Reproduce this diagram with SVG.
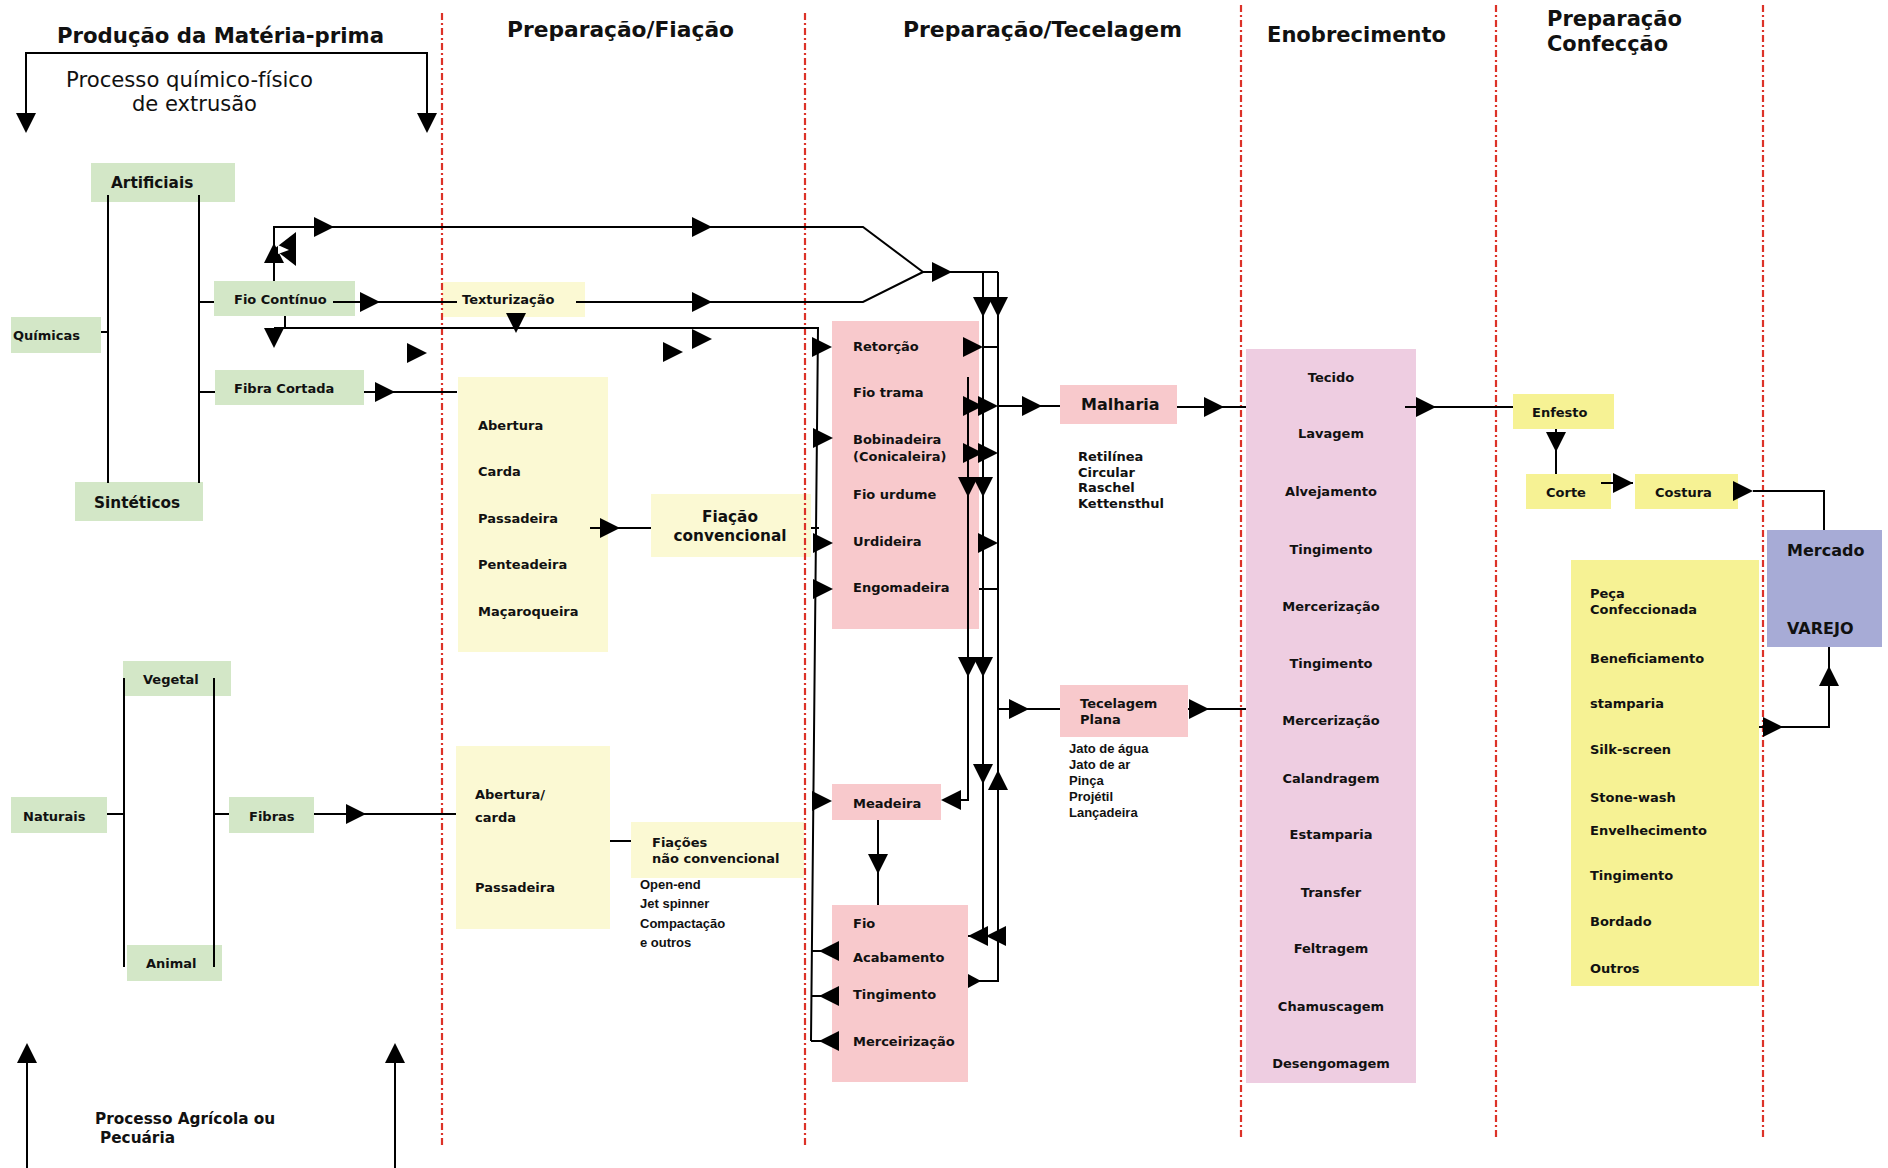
<svg xmlns="http://www.w3.org/2000/svg" xmlns:xlink="http://www.w3.org/1999/xlink" width="1888" height="1168" viewBox="0 0 1888 1168">
  <style>
    .green { fill: #d3e7c7; }
    .pale { fill: #fbf9d3; }
    .pink { fill: #f8c9cc; }
    .mauve { fill: #eecde1; }
    .yellow { fill: #f6f294; }
    .blue { fill: #a7abd6; }
    .lane { stroke: #dc3228; stroke-width: 2.2; stroke-dasharray: 7 3 2 3; fill: none; }
    .wire { stroke: #000; stroke-width: 2; fill: none; }
    text { fill: #111; font-family: "DejaVu Sans", Verdana, sans-serif; font-weight: bold; }
    .h { font-size: 21.3px; }
    .sub { font-size: 21px; font-weight: normal; }
    .t13 { font-size: 13px; }
    .t15 { font-size: 15.3px; }
    .t16 { font-size: 16px; }
    .a13 { font-family: "Liberation Sans", Arial, sans-serif; font-size: 13px; }
    .mid { text-anchor: middle; }
  </style>
  <defs>
    <!-- arrowhead pointing right, tip at the origin -->
    <path id="ah" d="M0,0 L-20,-10 L-20,10 Z" fill="#000"/>
    <path id="ahs" d="M0,0 L-13,-7 L-13,7 Z" fill="#000"/>
  </defs>

  <rect width="1888" height="1168" fill="#fff"/>

  <!-- column headings -->
  <g id="headings">
    <text class="h" x="57" y="43" textLength="327" lengthAdjust="spacingAndGlyphs">Produção da Matéria-prima</text>
    <text class="sub" x="66" y="87" textLength="247" lengthAdjust="spacingAndGlyphs">Processo químico-físico</text>
    <text class="sub" x="132" y="111" textLength="125" lengthAdjust="spacingAndGlyphs">de extrusão</text>
    <text class="h" x="507" y="37" textLength="227" lengthAdjust="spacingAndGlyphs">Preparação/Fiação</text>
    <text class="h" x="903" y="37" textLength="279" lengthAdjust="spacingAndGlyphs">Preparação/Tecelagem</text>
    <text class="h" x="1267" y="42" textLength="179" lengthAdjust="spacingAndGlyphs">Enobrecimento</text>
    <text class="h" x="1547" y="26" textLength="135" lengthAdjust="spacingAndGlyphs">Preparação</text>
    <text class="h" x="1547" y="51" textLength="121" lengthAdjust="spacingAndGlyphs">Confecção</text>
    <text class="t15" x="95" y="1124">Processo Agrícola ou</text>
    <text class="t15" x="100" y="1143">Pecuária</text>
  </g>

  <!-- raw material nodes -->
  <g id="artificiais"><rect class="green" x="91" y="163" width="144" height="39"/><text class="t15" x="111" y="188">Artificiais</text></g>
  <g id="quimicas"><rect class="green" x="11" y="317" width="90" height="36"/><text class="t13" x="13" y="340">Químicas</text></g>
  <g id="fio-continuo"><rect class="green" x="214" y="281" width="141" height="35"/><text class="t13" x="234" y="304">Fio Contínuo</text></g>
  <g id="fibra-cortada"><rect class="green" x="215" y="370" width="149" height="35"/><text class="t13" x="234" y="393">Fibra Cortada</text></g>
  <g id="sinteticos"><rect class="green" x="75" y="482" width="128" height="39"/><text class="t15" x="94" y="508">Sintéticos</text></g>
  <g id="vegetal"><rect class="green" x="123" y="661" width="108" height="35"/><text class="t13" x="143" y="684">Vegetal</text></g>
  <g id="naturais"><rect class="green" x="11" y="797" width="96" height="36"/><text class="t13" x="23" y="821">Naturais</text></g>
  <g id="fibras"><rect class="green" x="229" y="797" width="85" height="36"/><text class="t13" x="249" y="821">Fibras</text></g>
  <g id="animal"><rect class="green" x="127" y="945" width="95" height="36"/><text class="t13" x="146" y="968">Animal</text></g>

  <!-- spinning nodes -->
  <g id="texturizacao"><rect class="pale" x="442" y="282" width="143" height="35"/><text class="t13" x="462" y="304">Texturização</text></g>
  <g id="preparacao-fibra">
    <rect class="pale" x="458" y="377" width="150" height="275"/>
    <text class="t13" x="478" y="430">Abertura</text>
    <text class="t13" x="478" y="476">Carda</text>
    <text class="t13" x="478" y="523">Passadeira</text>
    <text class="t13" x="478" y="569">Penteadeira</text>
    <text class="t13" x="478" y="616">Maçaroqueira</text>
  </g>
  <g id="fiacao-convencional">
    <rect class="pale" x="651" y="494" width="160" height="63"/>
    <text class="t15 mid" x="730" y="522">Fiação</text>
    <text class="t15 mid" x="730" y="541">convencional</text>
  </g>
  <g id="preparacao-natural">
    <rect class="pale" x="456" y="746" width="154" height="183"/>
    <text class="t13" x="475" y="799">Abertura/</text>
    <text class="t13" x="475" y="822">carda</text>
    <text class="t13" x="475" y="892">Passadeira</text>
  </g>
  <g id="fiacoes-nao-convencional">
    <rect class="pale" x="631" y="822" width="173" height="56"/>
    <text class="t13" x="652" y="847">Fiações</text>
    <text class="t13" x="652" y="863">não convencional</text>
    <text class="a13" x="640" y="889">Open-end</text>
    <text class="a13" x="640" y="908">Jet spinner</text>
    <text class="a13" x="640" y="928">Compactação</text>
    <text class="a13" x="640" y="947">e outros</text>
  </g>

  <!-- weaving preparation nodes -->
  <g id="preparacao-tecelagem">
    <rect class="pink" x="832" y="321" width="147" height="308"/>
    <text class="t13" x="853" y="351">Retorção</text>
    <text class="t13" x="853" y="397">Fio trama</text>
    <text class="t13" x="853" y="444">Bobinadeira</text>
    <text class="t13" x="853" y="461">(Conicaleira)</text>
    <text class="t13" x="853" y="499">Fio urdume</text>
    <text class="t13" x="853" y="546">Urdideira</text>
    <text class="t13" x="853" y="592">Engomadeira</text>
  </g>
  <g id="malharia">
    <rect class="pink" x="1060" y="385" width="117" height="39"/>
    <text class="t16" x="1081" y="410">Malharia</text>
    <text class="t13" x="1078" y="461">Retilínea</text>
    <text class="t13" x="1078" y="477">Circular</text>
    <text class="t13" x="1078" y="492">Raschel</text>
    <text class="t13" x="1078" y="508">Kettensthul</text>
  </g>
  <g id="tecelagem-plana">
    <rect class="pink" x="1060" y="685" width="128" height="52"/>
    <text class="t13" x="1080" y="708">Tecelagem</text>
    <text class="t13" x="1080" y="724">Plana</text>
    <text class="a13" x="1069" y="753">Jato de água</text>
    <text class="a13" x="1069" y="769">Jato de ar</text>
    <text class="a13" x="1069" y="785">Pinça</text>
    <text class="a13" x="1069" y="801">Projétil</text>
    <text class="a13" x="1069" y="817">Lançadeira</text>
  </g>
  <g id="meadeira"><rect class="pink" x="832" y="784" width="109" height="36"/><text class="t13" x="853" y="808">Meadeira</text></g>
  <g id="fio-acabamento">
    <rect class="pink" x="832" y="905" width="136" height="177"/>
    <text class="t13" x="853" y="928">Fio</text>
    <text class="t13" x="853" y="962">Acabamento</text>
    <text class="t13" x="853" y="999">Tingimento</text>
    <text class="t13" x="853" y="1046">Merceirização</text>
  </g>

  <!-- finishing -->
  <g id="tecido">
    <rect class="mauve" x="1246" y="349" width="170" height="734"/>
    <text class="t13 mid" x="1331" y="382">Tecido</text>
    <text class="t13 mid" x="1331" y="438">Lavagem</text>
    <text class="t13 mid" x="1331" y="496">Alvejamento</text>
    <text class="t13 mid" x="1331" y="554">Tingimento</text>
    <text class="t13 mid" x="1331" y="611">Mercerização</text>
    <text class="t13 mid" x="1331" y="668">Tingimento</text>
    <text class="t13 mid" x="1331" y="725">Mercerização</text>
    <text class="t13 mid" x="1331" y="783">Calandragem</text>
    <text class="t13 mid" x="1331" y="839">Estamparia</text>
    <text class="t13 mid" x="1331" y="897">Transfer</text>
    <text class="t13 mid" x="1331" y="953">Feltragem</text>
    <text class="t13 mid" x="1331" y="1011">Chamuscagem</text>
    <text class="t13 mid" x="1331" y="1068">Desengomagem</text>
  </g>

  <!-- garment making -->
  <g id="enfesto"><rect class="yellow" x="1513" y="394" width="101" height="35"/><text class="t13" x="1532" y="417">Enfesto</text></g>
  <g id="corte"><rect class="yellow" x="1526" y="474" width="85" height="35"/><text class="t13" x="1546" y="497">Corte</text></g>
  <g id="costura"><rect class="yellow" x="1635" y="474" width="103" height="35"/><text class="t13" x="1655" y="497">Costura</text></g>
  <g id="peca-confeccionada">
    <rect class="yellow" x="1571" y="560" width="188" height="426"/>
    <text class="t13" x="1590" y="598">Peça</text>
    <text class="t13" x="1590" y="614">Confeccionada</text>
    <text class="t13" x="1590" y="663">Beneficiamento</text>
    <text class="t13" x="1590" y="708">stamparia</text>
    <text class="t13" x="1590" y="754">Silk-screen</text>
    <text class="t13" x="1590" y="802">Stone-wash</text>
    <text class="t13" x="1590" y="835">Envelhecimento</text>
    <text class="t13" x="1590" y="880">Tingimento</text>
    <text class="t13" x="1590" y="926">Bordado</text>
    <text class="t13" x="1590" y="973">Outros</text>
  </g>
  <g id="mercado">
    <rect class="blue" x="1767" y="530" width="115" height="117"/>
    <text class="t16" x="1787" y="556">Mercado</text>
    <text class="t16" x="1787" y="634">VAREJO</text>
  </g>

  <!-- stage separators -->
  <g id="lanes">
    <line class="lane" x1="442" y1="13" x2="442" y2="1146"/>
    <line class="lane" x1="805" y1="13" x2="805" y2="1146"/>
    <line class="lane" x1="1241" y1="5" x2="1241" y2="1138"/>
    <line class="lane" x1="1496" y1="5" x2="1496" y2="1138"/>
    <line class="lane" x1="1763" y1="5" x2="1763" y2="1138"/>
  </g>

  <!-- connectors -->
  <g id="connectors">
    <!-- process brackets -->
    <path class="wire" d="M26,114 V53 H427 V114"/>
    <path class="wire" d="M27,1168 V1060 M395,1168 V1060"/>

    <!-- synthetic / artificial tree -->
    <path class="wire" d="M108,195 V483 M199,195 V483 M101,332 H108 M199,302 H214 M199,392 H215"/>
    <!-- natural tree -->
    <path class="wire" d="M124,678 V967 M214,678 V967 M107,814 H124 M214,814 H229"/>

    <!-- filament routes -->
    <path class="wire" d="M274,281 V227 H863 L923,272 H998"/>
    <path class="wire" d="M333,302 H457 M576,302 H863 L923,272"/>
    <path class="wire" d="M285,316 V328 M274,328 H818 L811,1041"/>
    <path class="wire" d="M364,392 H457 M590,528 H651 M314,814 H456 M610,841 H631"/>

    <!-- weaving preparation bundle -->
    <path class="wire" d="M998,272 V981 H968 M983,272 V936 H968 M968,377 V800 H955"/>
    <path class="wire" d="M811,528 H819 M811,951 H839 M811,996 H839 M811,1041 H839"/>
    <path class="wire" d="M983,347 H998 M998,406 H1060 M979,589 H998 M998,709 H1060 M878,820 V905"/>

    <!-- finishing and garment flow -->
    <path class="wire" d="M1177,407 H1246 M1188,709 H1246 M1405,407 H1513"/>
    <path class="wire" d="M1556,429 V474 M1601,483 H1633 M1753,491 H1824 V530 M1759,727 H1829 V647"/>

    <!-- arrowheads pointing right -->
    <use xlink:href="#ah" x="334" y="227"/>
    <use xlink:href="#ah" x="712" y="227"/>
    <use xlink:href="#ah" x="380" y="302"/>
    <use xlink:href="#ah" x="712" y="302"/>
    <use xlink:href="#ah" x="952" y="272"/>
    <use xlink:href="#ah" x="395" y="392"/>
    <use xlink:href="#ah" x="366" y="814"/>
    <use xlink:href="#ah" x="620" y="528"/>
    <use xlink:href="#ah" x="427" y="353"/>
    <use xlink:href="#ah" x="683" y="352"/>
    <use xlink:href="#ah" x="712" y="339"/>
    <use xlink:href="#ah" x="832" y="347"/>
    <use xlink:href="#ah" x="833" y="438"/>
    <use xlink:href="#ah" x="833" y="543"/>
    <use xlink:href="#ah" x="833" y="589"/>
    <use xlink:href="#ah" x="832" y="801"/>
    <use xlink:href="#ah" x="983" y="347"/>
    <use xlink:href="#ah" x="983" y="406"/>
    <use xlink:href="#ah" x="998" y="406"/>
    <use xlink:href="#ah" x="1042" y="406"/>
    <use xlink:href="#ah" x="983" y="453"/>
    <use xlink:href="#ah" x="998" y="453"/>
    <use xlink:href="#ah" x="998" y="543"/>
    <use xlink:href="#ah" x="1029" y="709"/>
    <use xlink:href="#ah" x="1224" y="407"/>
    <use xlink:href="#ah" x="1209" y="709"/>
    <use xlink:href="#ah" x="1436" y="407"/>
    <use xlink:href="#ah" x="1633" y="483"/>
    <use xlink:href="#ah" x="1753" y="491"/>
    <use xlink:href="#ah" x="1783" y="727"/>
    <use xlink:href="#ahs" x="981" y="981"/>

    <!-- arrowheads pointing left -->
    <use xlink:href="#ah" transform="translate(941,800) rotate(180)"/>
    <use xlink:href="#ah" transform="translate(819,951) rotate(180)"/>
    <use xlink:href="#ah" transform="translate(819,996) rotate(180)"/>
    <use xlink:href="#ah" transform="translate(819,1041) rotate(180)"/>
    <use xlink:href="#ah" transform="translate(968,936) rotate(180)"/>
    <use xlink:href="#ah" transform="translate(986,936) rotate(180)"/>
    <polygon points="274,249 296,232 296,266" fill="#000"/>

    <!-- arrowheads pointing down -->
    <use xlink:href="#ah" transform="translate(26,133) rotate(90)"/>
    <use xlink:href="#ah" transform="translate(427,133) rotate(90)"/>
    <use xlink:href="#ah" transform="translate(274,348) rotate(90)"/>
    <use xlink:href="#ah" transform="translate(516,333) rotate(90)"/>
    <use xlink:href="#ah" transform="translate(983,317) rotate(90)"/>
    <use xlink:href="#ah" transform="translate(998,317) rotate(90)"/>
    <use xlink:href="#ah" transform="translate(968,497) rotate(90)"/>
    <use xlink:href="#ah" transform="translate(983,497) rotate(90)"/>
    <use xlink:href="#ah" transform="translate(968,677) rotate(90)"/>
    <use xlink:href="#ah" transform="translate(983,677) rotate(90)"/>
    <use xlink:href="#ah" transform="translate(983,784) rotate(90)"/>
    <use xlink:href="#ah" transform="translate(878,874) rotate(90)"/>
    <use xlink:href="#ah" transform="translate(1556,452) rotate(90)"/>

    <!-- arrowheads pointing up -->
    <use xlink:href="#ah" transform="translate(27,1043) rotate(-90)"/>
    <use xlink:href="#ah" transform="translate(395,1043) rotate(-90)"/>
    <use xlink:href="#ah" transform="translate(274,243) rotate(-90)"/>
    <use xlink:href="#ah" transform="translate(998,770) rotate(-90)"/>
    <use xlink:href="#ah" transform="translate(1829,666) rotate(-90)"/>
    <polygon points="278,245 289,250 278,254" fill="#fff"/>
  </g>
</svg>
